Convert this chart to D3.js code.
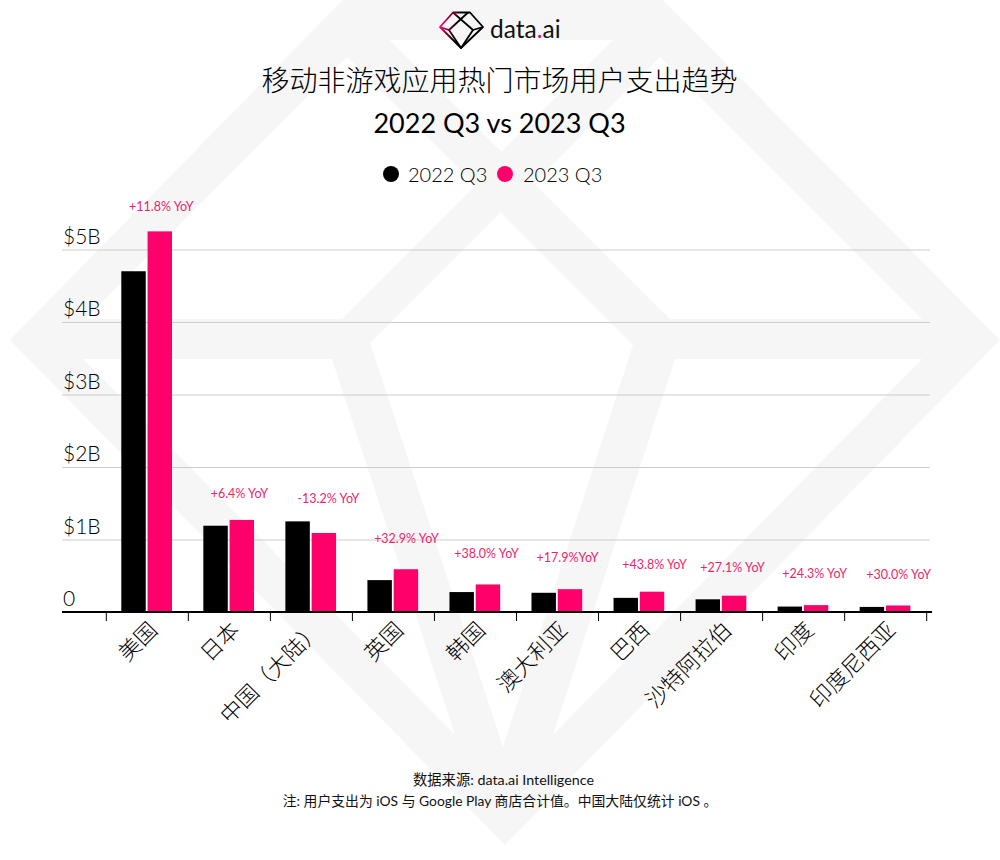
<!DOCTYPE html>
<html><head><meta charset="utf-8">
<script src="https://cdn.jsdelivr.net/npm/d3@7"></script>
<style>
html,body{margin:0;padding:0;background:#fff}
svg{display:block}
text{font-family:"Lato","Noto Sans CJK SC",sans-serif}
.cjk{font-family:"Lato","Noto Sans CJK SC",sans-serif;font-weight:300}
</style></head><body>
<svg id="c" width="1000" height="860"></svg>
<script>
const categories=["美国","日本","中国（大陆）","英国","韩国","澳大利亚","巴西","沙特阿拉伯","印度","印度尼西亚"];
const seriesNames=["2022 Q3","2023 Q3"];
const values2022=[4.70,1.19,1.25,0.44,0.275,0.265,0.195,0.175,0.075,0.07];
const values2023=[5.25,1.27,1.09,0.59,0.38,0.315,0.28,0.225,0.095,0.09];
const yoyLabels=["+11.8% YoY","+6.4% YoY","-13.2% YoY","+32.9% YoY","+38.0% YoY","+17.9%YoY","+43.8% YoY","+27.1% YoY","+24.3% YoY","+30.0% YoY"];
const yTicks=[0,1,2,3,4,5];
const yTickLabels=["0","$1B","$2B","$3B","$4B","$5B"];
const labelDx=[14,10,17,13,11,10,15,11,11,13];
const labelDy=[-25,-27,-23,-31,-31,-32,-28,-29,-32,-31];
const colors=["#000000","#ff006a"];
const wmOuter=[[343,0],[663,0],[1000,340],[505,845],[10,340]];
const wmCuts=[
 [[347,57],[475.5,185.5],[342,319],[85,319]],
 [[660,57],[922,319],[670,319],[534,183]],
 [[390,40],[613,40],[501.5,151.5]],
 [[500.5,212.5],[633,345],[503,747],[370,343]],
 [[83,359],[332,359],[455,735]],
 [[922,359],[675,359],[553,735]]
];
const svg=d3.select("#c");
const poly=d3.line().curve(d3.curveLinearClosed);
svg.append("rect").attr("width",1000).attr("height",860).attr("fill","#fff");
const wm=svg.append("g");
wm.append("path").attr("d",poly(wmOuter)).attr("fill","#f6f6f6");
wm.selectAll("path.c").data(wmCuts).join("path").attr("class","c").attr("d",d=>poly(d)).attr("fill","#fff");

// logo
const defs=svg.append("defs");
const g=defs.append("linearGradient").attr("id","lg").attr("gradientUnits","userSpaceOnUse").attr("x1",440).attr("x2",456).attr("y1",27).attr("y2",31);
g.append("stop").attr("offset",0).attr("stop-color","#ff006a");
g.append("stop").attr("offset",1).attr("stop-color","#000");
const logo=svg.append("g").attr("fill","none").attr("stroke","url(#lg)").attr("stroke-width",1.8).attr("stroke-linejoin","round");
[[[453,12.5],[470,12.5],[483,27],[461,48],[440,27]],[[453,12.5],[473,30],[461,48],[449,30],[468,12.5]],[[440,27],[449,30]],[[473,30],[483,27]]]
 .forEach((p,i)=>logo.append("path").attr("d",i==0?poly(p):d3.line()(p)));
const lt=svg.append("text").attr("x",490).attr("y",38).attr("font-size",24.5).attr("fill","#111").attr("font-weight",400);
lt.append("tspan").text("data");lt.append("tspan").attr("fill","#ff006a").text(".");lt.append("tspan").text("ai");

// titles
svg.append("text").attr("class","cjk").attr("x",499.5).attr("y",91).attr("text-anchor","middle").attr("font-size",28).attr("fill","#000").text("移动非游戏应用热门市场用户支出趋势");
svg.append("text").attr("x",499.5).attr("y",133).attr("text-anchor","middle").attr("font-size",27).attr("fill","#000").attr("font-weight",400).text("2022 Q3 vs 2023 Q3");

// legend
const legX=[391,505],legT=[408,523];
seriesNames.forEach((s,i)=>{
 svg.append("circle").attr("cx",legX[i]).attr("cy",174).attr("r",8).attr("fill",colors[i]);
 svg.append("text").attr("x",legT[i]).attr("y",182).attr("font-size",20).attr("fill","#000").attr("font-weight",300).text(s);
});

// scales
const y=d3.scaleLinear().domain([0,5]).range([612,249.5]);
const x=d3.scaleBand().domain(categories).range([106.3,926.7]);
const x1=d3.scaleBand().domain(seriesNames).range([15,65.7]).paddingInner(0.07);

// grid and y labels
const ya=svg.append("g").attr("transform","translate(62,0)").call(d3.axisRight(y).tickValues(yTicks).tickSize(868).tickFormat((d,i)=>yTickLabels[i]));
ya.select(".domain").remove();
ya.selectAll("line").attr("stroke","#cccccc").attr("stroke-width",1);
ya.selectAll("text").attr("x",1).attr("dy",-6.5).attr("font-size",21).attr("fill","#000").attr("font-weight",300).attr("text-anchor","start");

// bars
const grp=svg.append("g").selectAll("g").data(categories).join("g").attr("transform",d=>`translate(${x(d)},0)`);
[values2022,values2023].forEach((vals,s)=>{
 grp.append("rect").attr("x",x1(seriesNames[s])).attr("width",x1.bandwidth())
  .attr("y",(d,i)=>y(vals[i])).attr("height",(d,i)=>y(0)-y(vals[i])).attr("fill",colors[s]);
});

// x axis
const xa=svg.append("g").attr("transform","translate(0,612)");
xa.append("line").attr("x1",62).attr("x2",932).attr("stroke","#000").attr("stroke-width",2);
xa.selectAll("line.t").data(d3.range(categories.length+1)).join("line").attr("class","t")
 .attr("x1",d=>106.3+d*x.step()).attr("x2",d=>106.3+d*x.step()).attr("y1",0).attr("y2",9).attr("stroke","#000").attr("stroke-width",1);
svg.append("g").selectAll("text").data(categories).join("text").attr("class","cjk")
 .attr("transform",d=>`translate(${x(d)+x.step()/2+6},${626}) rotate(-45)`)
 .attr("text-anchor","end").attr("font-size",22).attr("dy","0.35em").attr("fill","#000").text(d=>d);

// YoY labels
svg.append("g").selectAll("text").data(yoyLabels).join("text")
 .attr("x",(d,i)=>x(categories[i])+x.step()/2+labelDx[i])
 .attr("y",(d,i)=>y(Math.max(values2022[i],values2023[i]))+labelDy[i]+5)
 .attr("text-anchor","middle").attr("font-size",12.5).attr("fill","#ee1f6c").text(d=>d);

// footer
svg.append("text").attr("class","cjk").attr("x",503.5).attr("y",785).attr("text-anchor","middle").attr("font-size",14.3).attr("fill","#111").style("font-weight",400).text("数据来源: data.ai Intelligence");
svg.append("text").attr("class","cjk").attr("x",500).attr("y",806).attr("text-anchor","middle").attr("font-size",13.85).attr("fill","#111").style("font-weight",400).text("注: 用户支出为 iOS 与 Google Play 商店合计值。中国大陆仅统计 iOS 。");
</script></body></html>
